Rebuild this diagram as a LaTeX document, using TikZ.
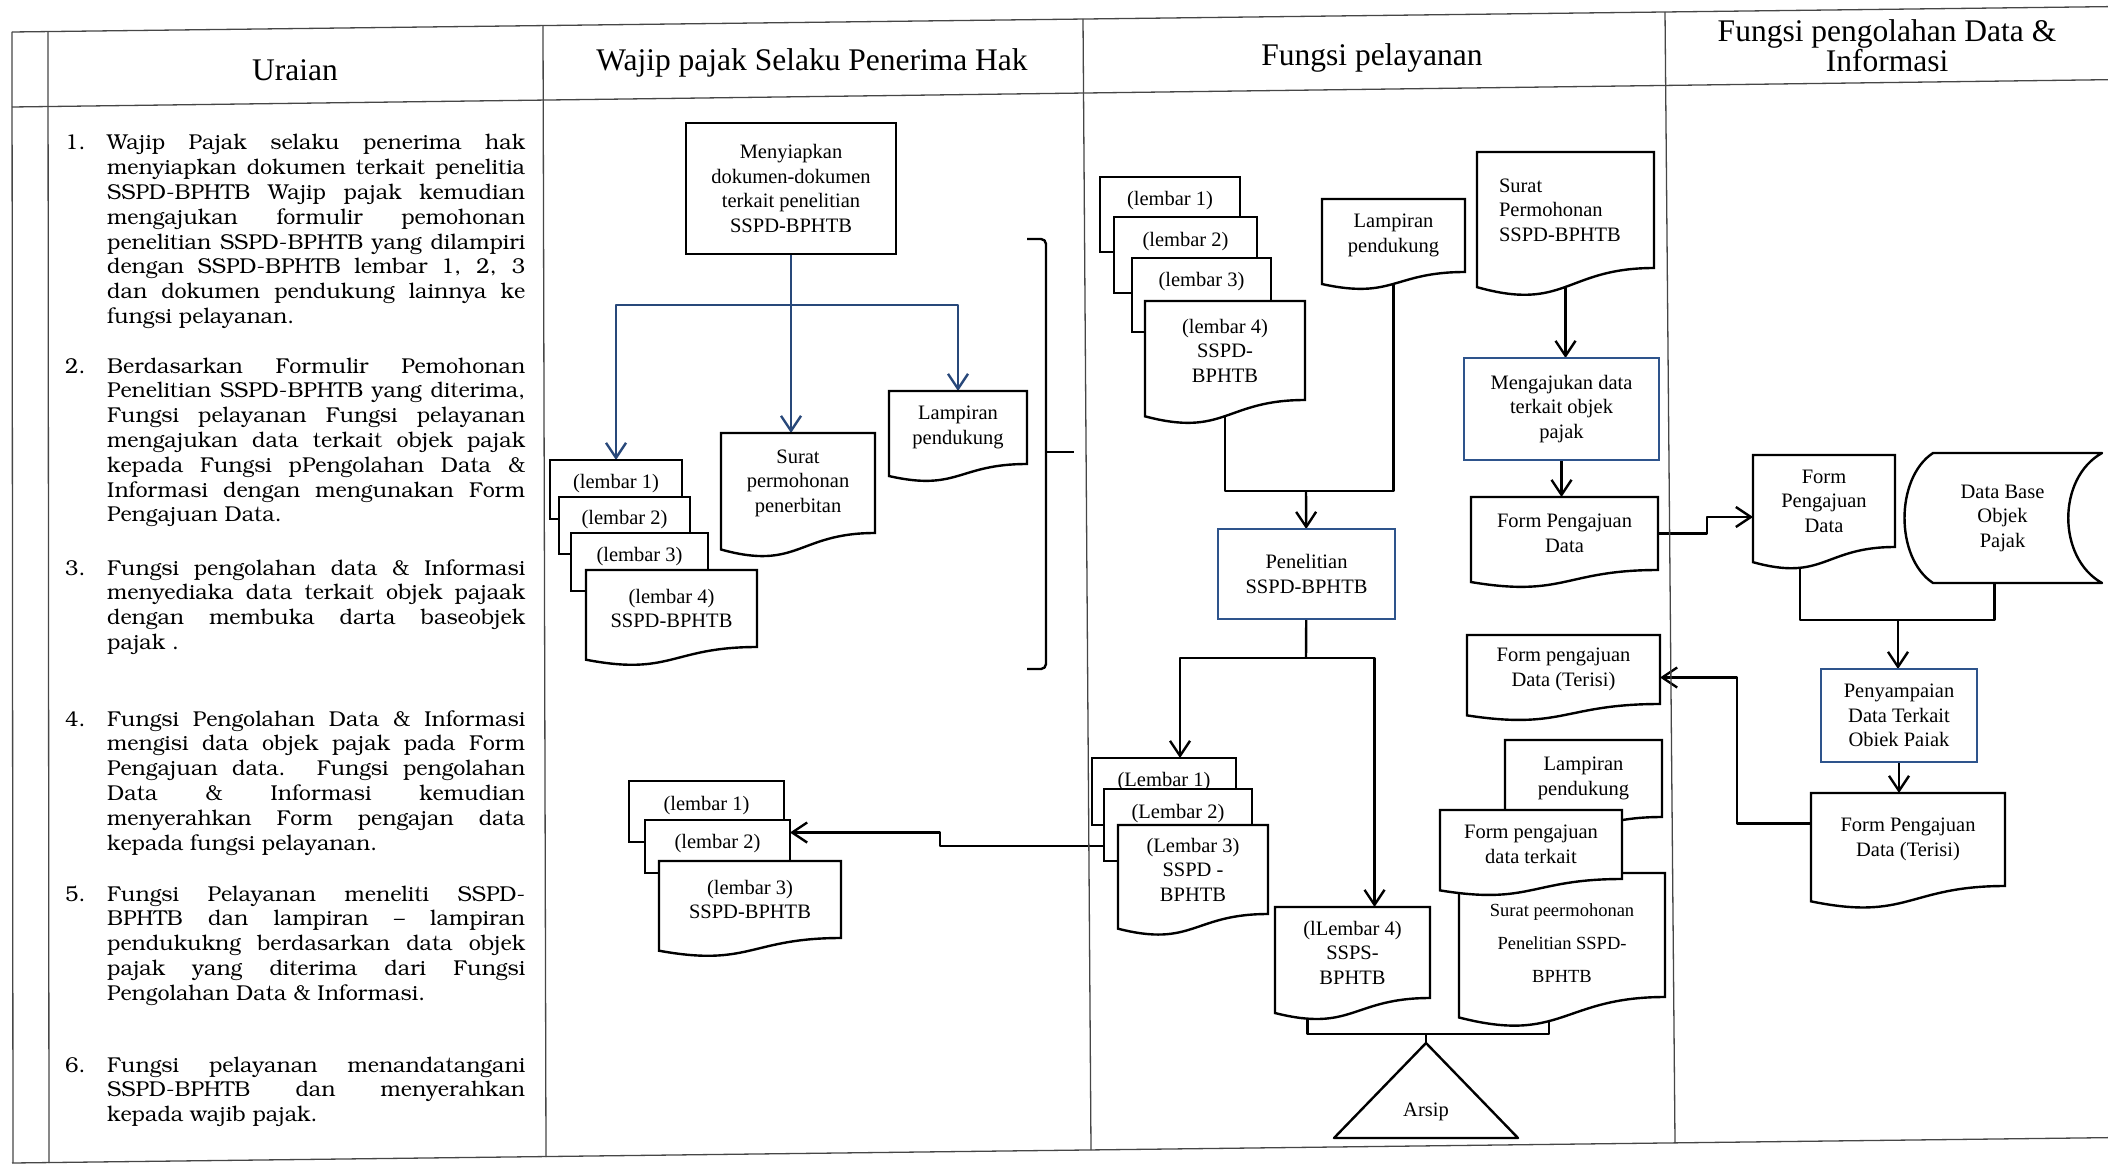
\documentclass[tikz,border=0pt]{standalone}
\usepackage[T1]{fontenc}
\usepackage{fontspec}
\setmainfont{Liberation Serif}
\usetikzlibrary{arrows.meta,backgrounds,calc}

\definecolor{garisbiru}{RGB}{40,72,122}
\definecolor{kotakbiru}{RGB}{46,84,140}
\definecolor{garistabel}{RGB}{70,70,70}

\newcommand{\teks}{\fontsize{20.5}{24.5}\selectfont}
\newcommand{\kecil}{\fontsize{18.5}{33}\selectfont}
\newcommand{\judul}{\fontsize{31.5}{28}\selectfont}
\newcommand{\uraian}{\fontencoding{T1}\fontfamily{pbk}\fontsize{21.5}{24.8}\selectfont}
\newcommand{\baris}[1]{{\spaceskip=0pt\xspaceskip=0pt\makebox[\linewidth][s]{#1}}\par}

\newdimen\dokXa
\newdimen\dokXb
\newdimen\dokXc
\newdimen\dokYa
\newdimen\dokYb
\newdimen\dokH
\newdimen\dokY
\newdimen\dokZ
\makeatletter
\pgfdeclareshape{dokumen}{%
  \inheritsavedanchors[from=rectangle]%
  \inheritanchorborder[from=rectangle]%
  \inheritanchor[from=rectangle]{center}%
  \inheritanchor[from=rectangle]{north}%
  \inheritanchor[from=rectangle]{south}%
  \inheritanchor[from=rectangle]{east}%
  \inheritanchor[from=rectangle]{west}%
  \inheritanchor[from=rectangle]{north west}%
  \inheritanchor[from=rectangle]{north east}%
  \inheritanchor[from=rectangle]{south west}%
  \inheritanchor[from=rectangle]{south east}%
  \anchor{bawah}{%
    \southwest \pgf@xa=\pgf@x \pgf@ya=\pgf@y
    \northeast \pgf@yb=\pgf@y
    \pgf@x=.5\pgf@x \advance\pgf@x by .5\pgf@xa
    \advance\pgf@yb by -\pgf@ya
    \pgf@y=\pgf@ya \advance\pgf@y by -.163\pgf@yb
  }%
  \backgroundpath{%
    \southwest \dokXa=\pgf@x \dokYa=\pgf@y
    \northeast \dokXb=\pgf@x \dokYb=\pgf@y
    \dokXc=.5\dokXa \advance\dokXc by .5\dokXb
    \dokH=\dokYb \advance\dokH by -\dokYa
    \dokY=\dokYa \advance\dokY by -.38\dokH
    \dokZ=\dokYa \advance\dokZ by -.165\dokH
    \pgfpathmoveto{\pgfqpoint{\dokXa}{\dokYb}}%
    \pgfpathlineto{\pgfqpoint{\dokXb}{\dokYb}}%
    \pgfpathlineto{\pgfqpoint{\dokXb}{\dokYa}}%
    \pgfpathcurveto{\pgfqpoint{\dokXc}{\dokYa}}{\pgfqpoint{\dokXc}{\dokY}}{\pgfqpoint{\dokXa}{\dokZ}}%
    \pgfpathclose
  }%
}
\makeatother

\tikzset{
  garis/.style={line width=2.4pt, line join=round},
  panah/.style={garis, -{Straight Barb[length=15pt,width=20pt]}},
  panahbiru/.style={panah, draw=garisbiru},
  kotak/.style={draw, line width=2.4pt, fill=white, inner sep=0pt, outer sep=0pt, align=center, font=\teks},
  kotakb/.style={kotak, draw=kotakbiru, anchor=north west},
  lembar/.style={kotak, anchor=north west},
  dok/.style={kotak, shape=dokumen, anchor=north west},
  nomor/.style={anchor=base west, inner sep=0pt, font=\uraian},
  uraiantxt/.style={anchor=base west, inner sep=0pt, text width=418pt, align=justify, font=\uraian},
  kepala/.style={font=\judul, align=center}
}

\begin{document}
\begin{tikzpicture}[x=1pt,y=-1pt]
\useasboundingbox (0,0) rectangle (2108,1166);

\begin{scope}[draw=garistabel, line width=1.3pt]
\draw (12,32) -- (2160,6);
\draw (12,107) -- (2160,79);
\draw (12,1163) -- (2160,1137);
\foreach \a/\b/\c/\d in {12/32/13/1163, 48/32/49/1163, 543/26/546/1157, 1083/19/1091/1150, 1665/12/1675/1143}
  \draw (\a,\b) -- (\c,\d);
\end{scope}

\node[kepala] (h1) at (295,70) {Uraian};
\node[kepala] (h2) at (812,63) {Wajip pajak Selaku Penerima Hak};
\node[kepala] (h3) at (1372,58) {Fungsi pelayanan};
\node[kepala] (h4) at (1887,46) {Fungsi pengolahan Data \&\\Informasi};

\node[nomor] (n1) at (65,150) {1.};
\node[uraiantxt] (u1) at (107,150) {\baris{Wajip Pajak selaku penerima hak}\baris{menyiapkan dokumen terkait penelitia}\baris{SSPD-BPHTB Wajip pajak kemudian}\baris{mengajukan formulir pemohonan}\baris{penelitian SSPD-BPHTB yang dilampiri}\baris{dengan SSPD-BPHTB lembar 1, 2, 3}\baris{dan dokumen pendukung lainnya ke}fungsi pelayanan.};
\node[nomor] (n2) at (65,373) {2.};
\node[uraiantxt] (u2) at (107,373) {\baris{Berdasarkan Formulir Pemohonan}\baris{Penelitian SSPD-BPHTB yang diterima,}\baris{Fungsi pelayanan Fungsi pelayanan}\baris{mengajukan data terkait objek pajak}\baris{kepada Fungsi pPengolahan Data \&}\baris{Informasi dengan mengunakan Form}Pengajuan Data.};
\node[nomor] (n3) at (65,575) {3.};
\node[uraiantxt] (u3) at (107,575) {\baris{Fungsi pengolahan data \& Informasi}\baris{menyediaka data terkait objek pajaak}\baris{dengan membuka darta baseobjek}pajak .};
\node[nomor] (n4) at (65,726) {4.};
\node[uraiantxt] (u4) at (107,726) {\baris{Fungsi Pengolahan Data \& Informasi}\baris{mengisi data objek pajak pada Form}\baris{Pengajuan data. Fungsi pengolahan}\baris{Data \& Informasi kemudian}\baris{menyerahkan Form pengajan data}kepada fungsi pelayanan.};
\node[nomor] (n5) at (65,901) {5.};
\node[uraiantxt] (u5) at (107,901) {\baris{Fungsi Pelayanan meneliti SSPD-}\baris{BPHTB dan lampiran -- lampiran}\baris{pendukukng berdasarkan data objek}\baris{pajak yang diterima dari Fungsi}Pengolahan Data \& Informasi.};
\node[nomor] (n6) at (65,1072) {6.};
\node[uraiantxt] (u6) at (107,1072) {\baris{Fungsi pelayanan menandatangani}\baris{SSPD-BPHTB dan menyerahkan}kepada wajib pajak.};

\node[kotak, anchor=north west, minimum width=210, minimum height=131] (siap) at (686,123) {Menyiapkan\\dokumen-dokumen\\terkait penelitian\\SSPD-BPHTB};
\node[lembar, minimum width=132, text height=28, text depth=31] (wt1) at (550,460) {(lembar 1)};
\node[lembar, minimum width=131, text height=27, text depth=30] (wt2) at (559,497) {(lembar 2)};
\node[lembar, minimum width=137, text height=28, text depth=30] (wt3) at (571,533) {(lembar 3)};
\node[dok, minimum width=171, minimum height=77] (wt4) at (586,570) {(lembar 4)\\SSPD-BPHTB};
\node[dok, minimum width=154, minimum height=100] (surat1) at (721,433) {Surat\\permohonan\\penerbitan};
\node[dok, minimum width=138, minimum height=73] (lamp1) at (889,391) {Lampiran\\pendukung};
\draw[garis, rounded corners=5pt] (1027,239) -| (1046,669) -- (1027,669);
\draw[garis] (1046,452) -- (1074,452);

\node[lembar, minimum width=155, text height=29, text depth=32] (bl1) at (629,781) {(lembar 1)};
\node[lembar, minimum width=145, text height=28, text depth=25] (bl2) at (645,820) {(lembar 2)};
\node[dok, minimum width=182, minimum height=77] (bl3) at (659,861) {(lembar 3)\\SSPD-BPHTB};

\node[lembar, minimum width=140, text height=29, text depth=46] (pt1) at (1100,177) {(lembar 1)};
\node[lembar, minimum width=143, text height=30, text depth=46] (pt2) at (1114,217) {(lembar 2)};
\node[lembar, minimum width=139, text height=28, text depth=46] (pt3) at (1132,258) {(lembar 3)};
\node[dok, minimum width=160, minimum height=99] (pt4) at (1145,301) {(lembar 4)\\SSPD-\\BPHTB};
\node[dok, minimum width=143, minimum height=73] (lamp2) at (1322,199) {Lampiran\\pendukung};
\node[dok, minimum width=177, minimum height=116, text width=133, align=left] (surat2) at (1477,152) {Surat\\Permohonan\\SSPD-BPHTB};
\node[kotakb, minimum width=195, minimum height=102] (ajukan) at (1464,358) {Mengajukan data\\terkait objek\\pajak};
\node[dok, minimum width=187, minimum height=73] (form1) at (1471,497) {Form Pengajuan\\Data};
\node[kotakb, minimum width=177, minimum height=90] (teliti) at (1218,529) {Penelitian\\SSPD-BPHTB};
\node[dok, minimum width=193, minimum height=69] (terisi1) at (1467,635) {Form pengajuan\\Data (Terisi)};

\node[lembar, minimum width=144, text height=28, text depth=39] (pb1) at (1092,758) {(Lembar 1)};
\node[lembar, minimum width=148, text height=29, text depth=43] (pb2) at (1104,789) {(Lembar 2)};
\node[dok, minimum width=150, minimum height=89] (pb3) at (1118,825) {(Lembar 3)\\SSPD -\\BPHTB};
\node[dok, minimum width=155, minimum height=91] (pb4) at (1275,907) {(lLembar 4)\\SSPS-\\BPHTB};
\node[dok, minimum width=157, minimum height=77] (lamp3) at (1505,740) {Lampiran\\pendukung};
\node[dok, minimum width=206, minimum height=124, font=\kecil] (surat3) at (1459,873) {\rule{0pt}{30pt}Surat peermohonan\\Penelitian SSPD-\\BPHTB};
\node[dok, minimum width=182, minimum height=69] (terkait) at (1440,810) {Form pengajuan\\data terkait};

\coordinate (puncak) at (1426,1043);
\draw[garis] (puncak) -- (1334,1138) -- (1518,1138) -- cycle;
\node[font=\teks] (arsip) at (1426,1112) {Arsip};

\node[dok, minimum width=142, minimum height=92] (form2) at (1753,455) {Form\\Pengajuan\\Data};
\node[anchor=north west, minimum width=199, minimum height=130, inner sep=0pt, outer sep=0pt, align=center, font=\teks] (db) at (1903,453) {Data Base\\Objek\\Pajak};
\draw[garis] ($(db.north west)+(30,0)$) -- (db.north east) .. controls ($(db.north east)+(-45,25)$) and ($(db.south east)+(-45,-25)$) .. (db.south east) -- ($(db.south west)+(30,0)$) .. controls ($(db.south west)+(-8,-25)$) and ($(db.north west)+(-8,25)$) .. cycle;
\node[kotakb, minimum width=156, minimum height=93] (sampai) at (1821,669) {Penyampaian\\Data Terkait\\Obiek Paiak};
\node[dok, minimum width=194, minimum height=93] (terisi2) at (1811,793) {Form Pengajuan\\Data (Terisi)};

\coordinate (cabang1) at (791,305);
\coordinate (gabung1) at (1306,491);
\coordinate (cabang2) at (1306,658);
\coordinate (gabung2) at (1898,620);
\coordinate (gabung3) at (1426,1034);

\begin{scope}[on background layer]
\draw[garis, draw=garisbiru] (siap.south) -- (cabang1);
\draw[panahbiru] (cabang1) -| (wt1.north);
\draw[panahbiru] (cabang1) -- (cabang1 |- surat1.north);
\draw[panahbiru] (cabang1) -| (lamp1.north);
\draw[garis] (pt4.center) |- (gabung1) -| (lamp2.center);
\draw[panah] (gabung1) -- (teliti);
\draw[panah] (surat2.bawah) -- (surat2.bawah |- ajukan.north);
\draw[panah] (ajukan.south) -- (ajukan.south |- form1.north);
\draw[garis] (teliti) -- (cabang2);
\draw[panah] (cabang2) -| ([xshift=16pt]pb1.north);
\draw[panah] (cabang2) -| ([xshift=22pt]pb4.north);
\draw[panah] ([yshift=-21pt]pb2.west) -- ++(-164,0) |- ([yshift=14pt]bl2.east);
\draw[garis] ([xshift=-45pt]pb4.center) |- (gabung3) -| ([xshift=-13pt]surat3.center);
\draw[garis] (gabung3) -- (puncak);
\draw[panah] (form1.east) -- ++(49,0) |- ([yshift=-16pt]form2.west);
\draw[garis] ([xshift=-24pt]form2.center) |- (gabung2) -| ([xshift=-8pt]db.south);
\draw[panah] (gabung2) -- (gabung2 |- sampai.north);
\draw[panah] (sampai.south) -- (sampai.south |- terisi2.north);
\draw[panah] ([yshift=16pt]terisi2.west) -- ++(-74,0) |- ([yshift=-8pt]terisi1.east);
\end{scope}
\end{tikzpicture}
\end{document}
